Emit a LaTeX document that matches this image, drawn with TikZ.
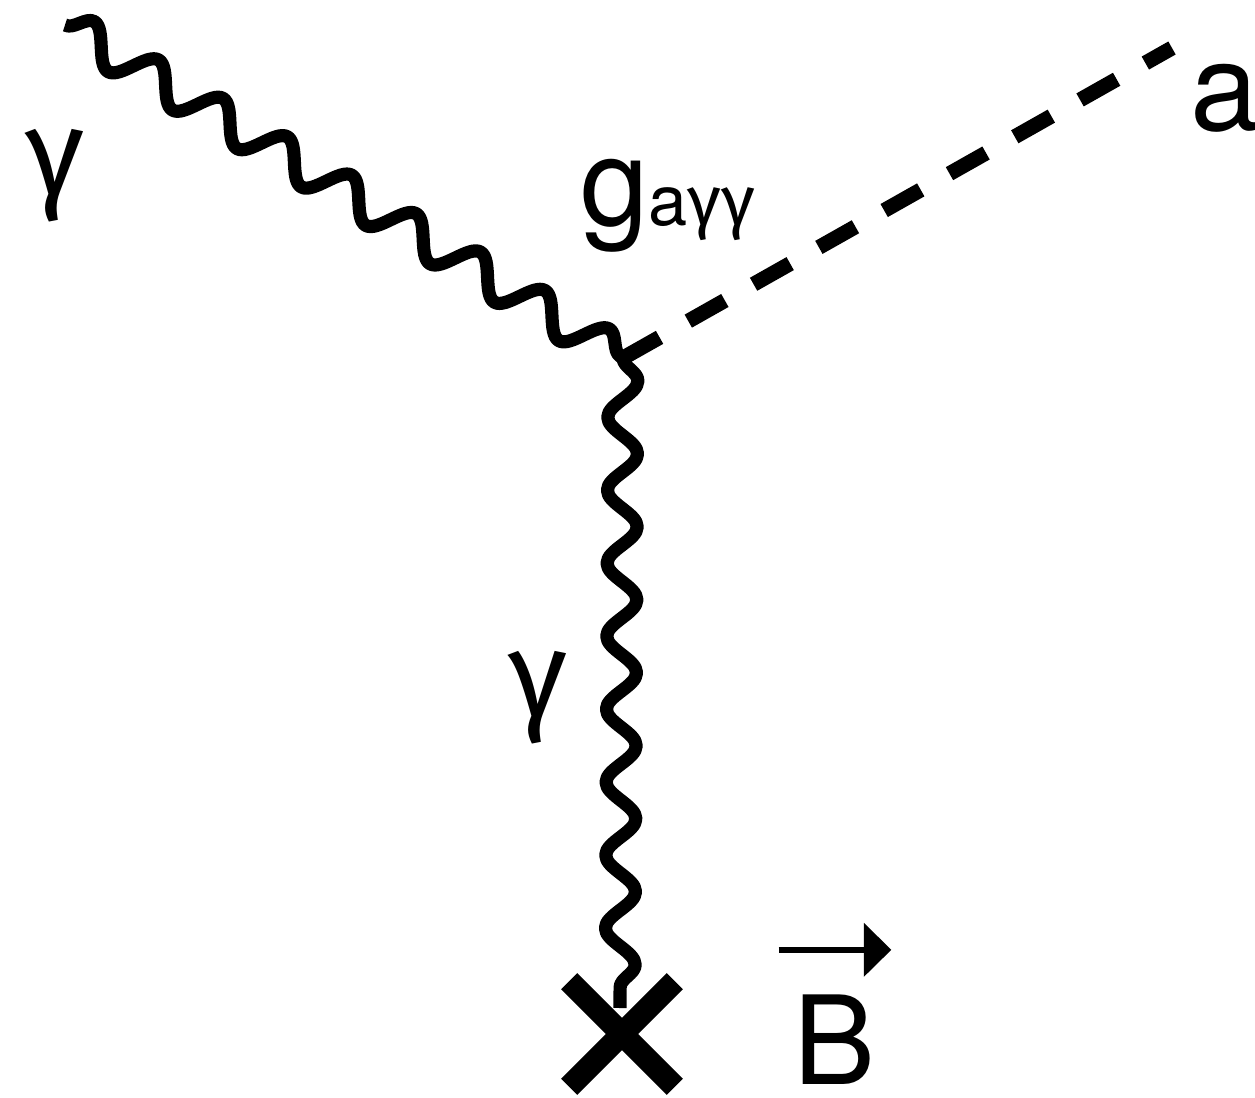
\documentclass[tikz,border=0pt]{standalone}
\usepackage{fontspec}
\setmainfont{TeX Gyre Heros}
\newfontfamily\gammafont{Fira Sans}
\newcommand{\phot}{{\gammafont γ}}
\usetikzlibrary{decorations.pathmorphing, arrows.meta, positioning}

\begin{document}
\begin{tikzpicture}[
  x=0.02cm, y=-0.02cm,
  photon/.style={decorate, decoration={snake, amplitude=0.36cm, segment length=1.5cm}, line width=7.5pt, line join=round},
  scalar/.style={dash pattern=on 0.84cm off 0.66cm, line width=8.5pt},
  lbl/.style={font=\fontsize{70}{80}\selectfont, inner sep=0pt},
  insertion/.style={minimum size=2.1cm, inner sep=0pt},
  crossline/.style={line width=13pt}
]
  \useasboundingbox (0,0) rectangle (1255,1098);
  \coordinate (gin) at (65,25);
  \coordinate (vtx) at (623,358);
  \coordinate (aout) at (1172,48);
  \coordinate (wend) at (620,1008);
  \node[insertion] (field) at (622,1034) {};

  \draw[photon] (gin) -- (vtx);
  \draw[scalar] (vtx) -- (aout);
  \draw[photon, decoration={amplitude=0.3cm, segment length=1.46cm}] (vtx) -- (wend);
  % external field insertion
  \draw[crossline] (field.north west) -- (field.south east);
  \draw[crossline] (field.north east) -- (field.south west);

  \node[lbl] (gammain) at (55,176) {\phot};
  \node[lbl] (gammamid) at (538,698) {\phot};
  \node[lbl] (axion) at (1225,98) {a};
  \node[lbl, anchor=base west] (coupling) at (580,226) {g{\fontsize{40}{48}\selectfont a\phot\phot}};
  \node[lbl] (bfield) at (835,1040) {B};
  \draw[line width=3.5pt, -{Triangle[length=0.55cm, width=1.05cm]}]
    ([xshift=-0.3cm, yshift=0.9cm]bfield.north west) -- ([xshift=0.3cm, yshift=0.9cm]bfield.north east);
\end{tikzpicture}
\end{document}
